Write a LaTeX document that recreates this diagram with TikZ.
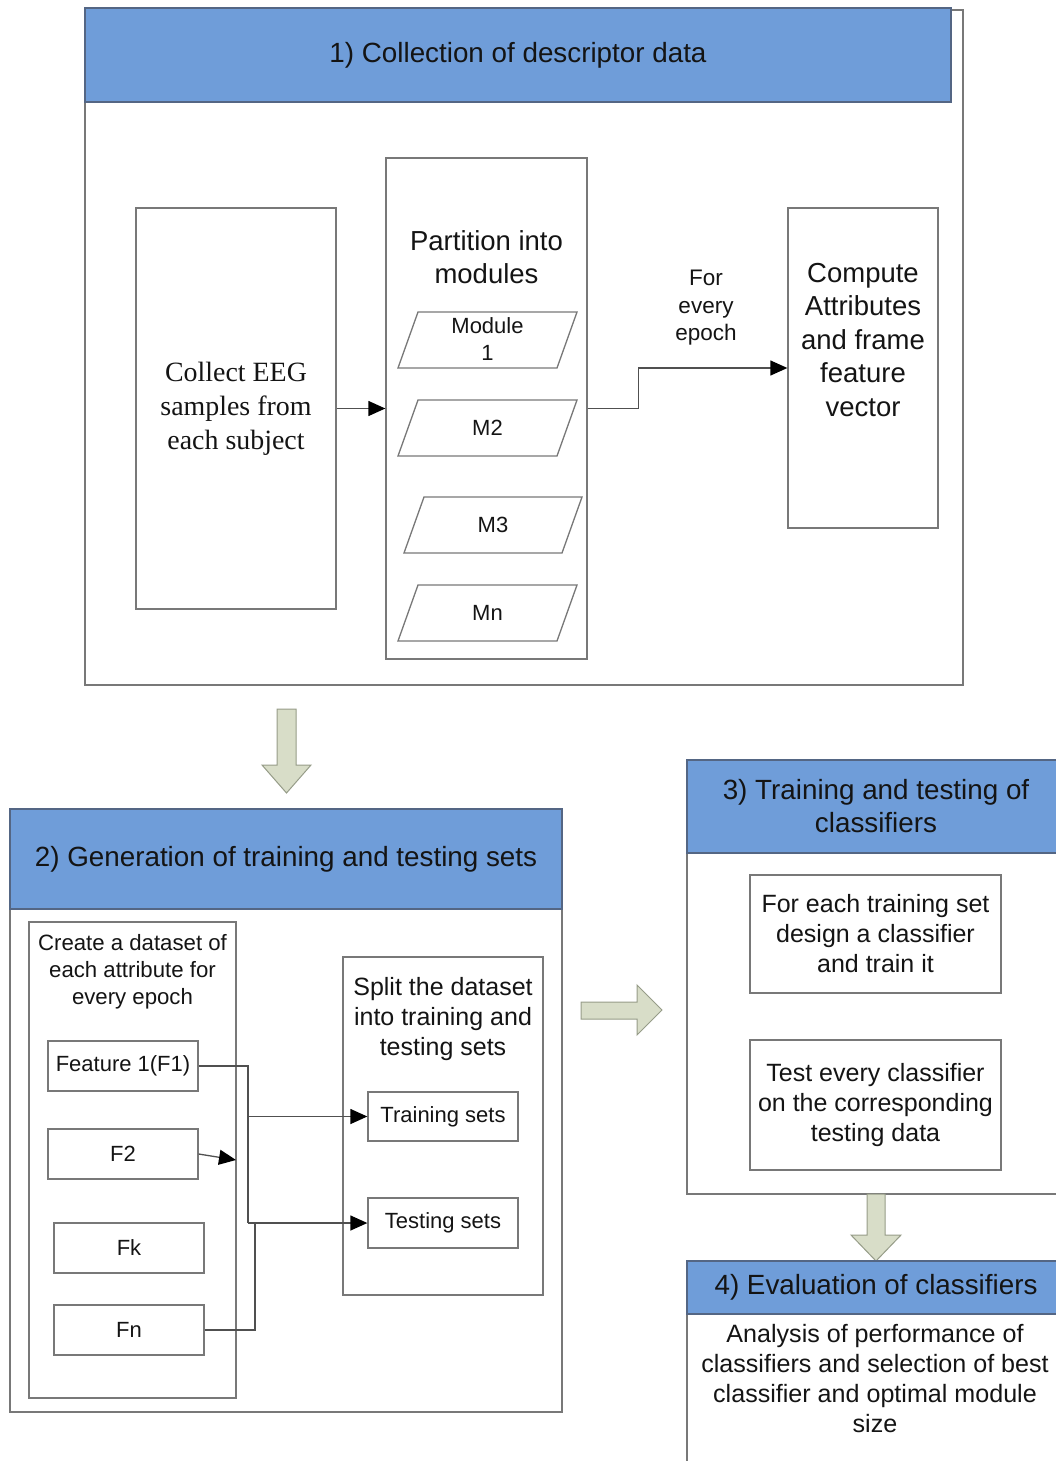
\documentclass[tikz,border=0pt]{standalone}
\usepackage{fontspec}
\setmainfont{Liberation Sans}
\newfontfamily\timesfont{Liberation Serif}
\usetikzlibrary{arrows.meta}

\definecolor{hdrblue}{RGB}{111,157,217}
\definecolor{hdrline}{RGB}{84,102,132}
\definecolor{frameline}{RGB}{120,120,120}
\definecolor{wirecol}{RGB}{80,80,80}
\definecolor{blockfill}{RGB}{216,221,200}
\definecolor{blockline}{RGB}{150,156,136}
\definecolor{ink}{RGB}{20,20,20}

\begin{document}
\begin{tikzpicture}[x=1pt,y=-1pt,
  frame/.style={draw=frameline,line width=1.3pt},
  header/.style={draw=hdrline,fill=hdrblue,line width=1.3pt,inner sep=0pt,
    text=ink,align=center,font=\fontsize{27.8}{33}\selectfont},
  box/.style={draw=frameline,line width=1.3pt,inner sep=0pt,text=ink,align=center},
  txt/.style={inner sep=0pt,text=ink,align=center},
  big/.style={font=\fontsize{27.5}{33.5}\selectfont},
  mid/.style={font=\fontsize{25}{30}\selectfont},
  small/.style={font=\fontsize{22}{27}\selectfont},
  conn/.style={draw=wirecol,line width=1.3pt,
    -{Triangle[length=17pt,width=15pt,color=black,fill=black]}},
  wire/.style={draw=wirecol,line width=1.3pt},
  blockarrow/.style={draw=blockline,fill=blockfill,line width=1pt,line join=miter}]

\useasboundingbox (0,0) rectangle (1056,1461);

% ---------- 1) Collection of descriptor data ----------
\draw[frame] (85,10) rectangle (963,685);
\node[header,minimum width=866,minimum height=94] (h1) at (518,55)
  {1) Collection of descriptor data};

\node[box,minimum width=200,minimum height=401,
      font=\timesfont\fontsize{27.9}{34}\selectfont] (collect) at (236,408.5)
  {Collect EEG\\samples from\\each subject};

\node[box,minimum width=201,minimum height=501] (partition) at (486.5,408.5) {};
\node[txt,big] (parttitle) at (486.5,257) {Partition into\\modules};

% module parallelograms
\draw[frame] (398,368) -- (418,312) -- (577,312) -- (557,368) -- cycle;
\node[txt,small] (mod1) at (487.5,339) {Module\\1};
\draw[frame] (398,456) -- (418,400) -- (577,400) -- (557,456) -- cycle;
\node[txt,small] (mod2) at (487.5,428) {M2};
\draw[frame] (404,553) -- (424,497) -- (582,497) -- (562,553) -- cycle;
\node[txt,small] (mod3) at (493,525) {M3};
\draw[frame] (398,641) -- (418,585) -- (577,585) -- (557,641) -- cycle;
\node[txt,small] (modn) at (487.5,613) {Mn};

\node[box,minimum width=150,minimum height=320] (compute) at (863,368) {};
\node[txt,big] (computetxt) at (863,340)
  {Compute\\Attributes\\and frame\\feature\\vector};

\node[txt,font=\fontsize{22.5}{27.5}\selectfont] (epochlbl) at (706,308)
  {For\\every\\epoch};

\draw[conn] (collect.east) -- (partition.west);
\draw[conn] (partition.east) -- ++(51,0) |- (compute.west);

% ---------- arrow down to section 2 ----------
\draw[blockarrow] (277,709) -- (296,709) -- (296,765) -- (311,765) -- (286.5,793)
  -- (262,765) -- (277,765) -- cycle;

% ---------- 2) Generation of training and testing sets ----------
\draw[frame] (10,809) rectangle (562,1412);
\node[header,minimum width=552,minimum height=100] (h2) at (286,859)
  {2) Generation of training and testing sets};

\node[box,minimum width=207,minimum height=476] (create) at (132.5,1160) {};
\node[txt,font=\fontsize{22.2}{27}\selectfont] (createtxt) at (132.5,972)
  {Create a dataset of\\each attribute for\\every epoch};

\node[box,small,minimum width=150,minimum height=50] (f1) at (123,1066) {Feature 1(F1)};
\node[box,small,minimum width=150,minimum height=50] (f2) at (123,1154) {F2};
\node[box,small,minimum width=150,minimum height=50] (fk) at (129,1248) {Fk};
\node[box,small,minimum width=150,minimum height=50] (fn) at (129,1330) {Fn};

\node[box,minimum width=200,minimum height=338] (split) at (443,1126) {};
\node[txt,mid] (splittxt) at (443,1019)
  {Split the dataset\\into training and\\testing sets};
\node[box,small,minimum width=150,minimum height=49] (train) at (443,1116.5) {Training sets};
\node[box,small,minimum width=150,minimum height=50] (test) at (443,1223) {Testing sets};

\coordinate (busTop) at (248,1066);
\coordinate (busTrain) at (248,1116.5);
\coordinate (busBot) at (248,1223);
\coordinate (fnBend) at (255,1330);
\coordinate (fnJoin) at (255,1223);
\coordinate (f2tip) at (236,1160);

\draw[wire] (f1.east) -- (busTop) -- (busBot);
\draw[conn] (busTrain) -- (train.west);
\draw[conn] (busBot) -- (test.west);
\draw[wire] (fn.east) -- (fnBend) -- (fnJoin);
\draw[conn] (f2.east) -- (f2tip);

% ---------- arrow right to section 3 ----------
\draw[blockarrow] (581,1002) -- (637,1002) -- (637,985) -- (662,1010) -- (637,1035)
  -- (637,1019) -- (581,1019) -- cycle;

% ---------- 3) Training and testing of classifiers ----------
\draw[frame] (687,760) rectangle (1065,1194);
\node[header,minimum width=378,minimum height=93] (h3) at (876,806.5)
  {3) Training and testing of\\classifiers};

\node[box,mid,minimum width=251,minimum height=118] (design) at (875.5,934)
  {For each training set\\design a classifier\\and train it};
\node[box,mid,minimum width=251,minimum height=130] (testclf) at (875.5,1105)
  {Test every classifier\\on the corresponding\\testing data};

% ---------- arrow down to section 4 ----------
\draw[blockarrow] (867,1194) -- (885,1194) -- (885,1235) -- (901,1235) -- (876,1261)
  -- (851,1235) -- (867,1235) -- cycle;

% ---------- 4) Evaluation of classifiers ----------
\draw[frame] (687,1261) rectangle (1065,1470);
\node[header,minimum width=378,minimum height=53] (h4) at (876,1287.5)
  {4) Evaluation of classifiers};
\node[txt,font=\fontsize{25.1}{30}\selectfont] (evaltxt) at (875,1379)
  {Analysis of performance of\\classifiers and selection of best\\classifier and optimal module\\size};

\end{tikzpicture}
\end{document}
